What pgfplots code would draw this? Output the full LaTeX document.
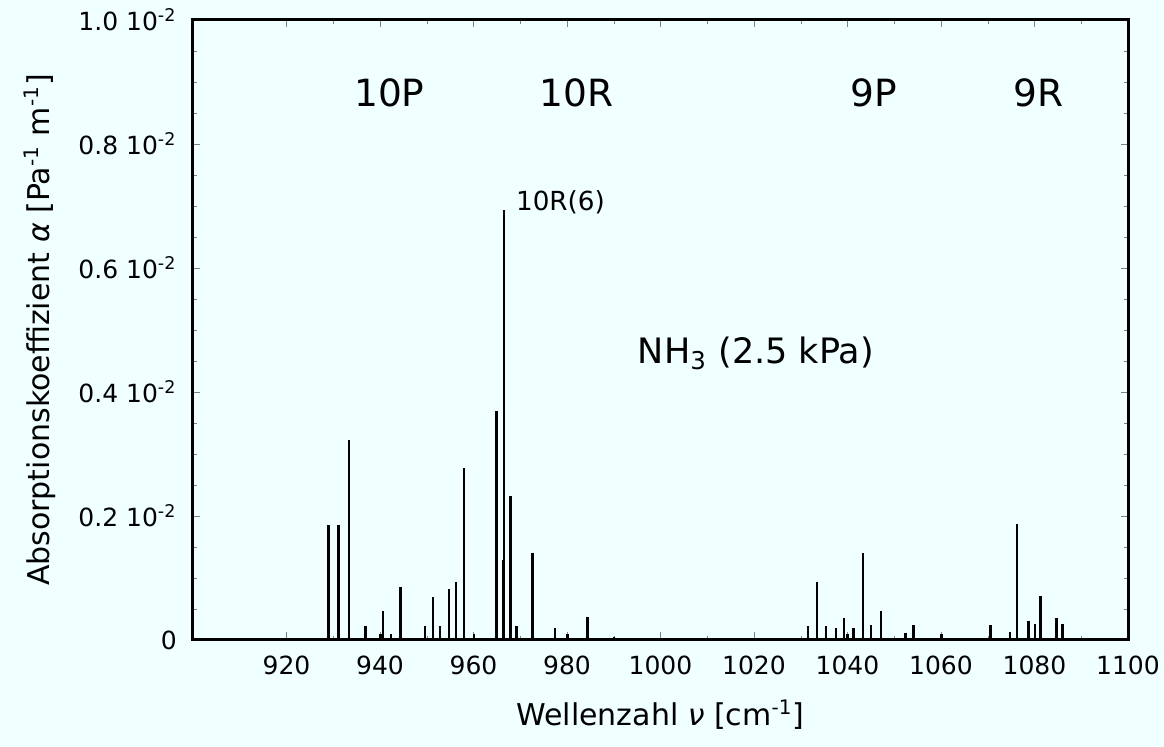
\documentclass[border=0pt]{standalone}
\usepackage{fontspec}
\setmainfont{DejaVu Sans}
\usepackage{pgfplots}
\usepackage{pgfplotstable}
\pgfplotsset{compat=1.18}
\definecolor{bg}{RGB}{240,255,255}

% NH3 absorption lines (wavenumber, alpha)
\pgfplotstableread{
x y
929.0 0.00185
931.1 0.00185
933.3 0.00323
936.9 0.00022
940.1 0.00010
940.6 0.00046
942.4 0.00010
944.4 0.00086
949.7 0.00023
951.4 0.00069
952.9 0.00023
954.7 0.00082
956.3 0.00094
957.9 0.00278
960.1 0.00010
964.9 0.00369
966.4 0.00129
966.6 0.00694
967.9 0.00232
969.2 0.00023
972.6 0.00140
977.4 0.00019
980.1 0.00010
984.4 0.00037
990.0 0.00005
1031.5 0.00023
1033.5 0.00093
1035.4 0.00023
1037.6 0.00019
1039.3 0.00036
1040.0 0.00009
1041.3 0.00019
1043.3 0.00140
1045.1 0.00024
1047.1 0.00047
1052.4 0.00012
1054.1 0.00024
1060.1 0.00010
1070.6 0.00024
1074.7 0.00013
1076.3 0.00187
1078.7 0.00030
1080.1 0.00025
1081.3 0.00071
1084.7 0.00036
1086.0 0.00025
}\lines

\begin{document}
\begin{tikzpicture}
\path[use as bounding box, fill=bg] (-77.2pt,-42.8pt) rectangle (388.4pt,256pt);
\begin{axis}[
    at={(0,0)}, anchor=south west,
    scale only axis, width=374pt, height=248pt,
    xmin=900, xmax=1100, ymin=0, ymax=0.01,
    axis line style={line width=1.2pt},
    tick align=inside, major tick length=3pt, minor tick length=1.5pt,
    xtick={920,940,...,1100}, minor x tick num=1,
    ytick={0,0.002,0.004,0.006,0.008,0.01}, minor y tick num=3,
    scaled y ticks=false,
    yticklabels={0,
        \mbox{0.2 10\textsuperscript{-2}},
        \mbox{0.4 10\textsuperscript{-2}},
        \mbox{0.6 10\textsuperscript{-2}},
        \mbox{0.8 10\textsuperscript{-2}},
        \mbox{1.0 10\textsuperscript{-2}}},
    /pgf/number format/assume math mode=true,
    /pgf/number format/set thousands separator={},
    tick label style={font=\fontsize{10}{12}\selectfont},
    xticklabel style={yshift=-3pt},
    yticklabel style={xshift=-3pt},
    xlabel={Wellenzahl \textit{ν} [cm\textsuperscript{-1}]},
    ylabel={Absorptionskoeffizient \textit{α} [Pa\textsuperscript{-1} m\textsuperscript{-1}]},
    label style={font=\fontsize{12}{14}\selectfont},
    xlabel style={at={(axis description cs:0.5,-0.121)}, anchor=center},
    ylabel style={at={(axis description cs:-0.164,0.5)}, anchor=center},
]
\addplot[ycomb, black, line width=0.9pt, mark=none] table[x=x, y=y] {\lines};

\node[font=\fontsize{15}{18}\selectfont] at (axis cs:942,0.00882) {10P};
\node[font=\fontsize{15}{18}\selectfont] at (axis cs:982,0.00882) {10R};
\node[font=\fontsize{15}{18}\selectfont] at (axis cs:1045.7,0.00882) {9P};
\node[font=\fontsize{15}{18}\selectfont] at (axis cs:1080.8,0.00882) {9R};
\node[font=\fontsize{10.5}{12}\selectfont, anchor=west, inner sep=0pt] at (axis cs:969,0.00706) {10R(6)};
\node[font=\fontsize{14}{17}\selectfont] at (axis cs:1020.4,0.00462) {NH\textsubscript{3} (2.5 kPa)};
\end{axis}
\end{tikzpicture}
\end{document}
